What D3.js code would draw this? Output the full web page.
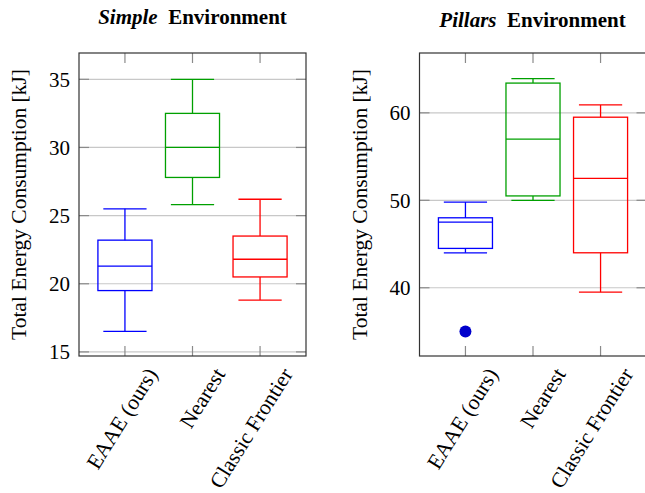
<!DOCTYPE html>
<html>
<head>
<meta charset="utf-8">
<script src="https://cdn.jsdelivr.net/npm/d3@7"></script>
<style>
  body { margin: 0; background: #fff; }
  svg { display: block; }
  text, tspan { font-family: "Liberation Serif", "Times New Roman", serif; fill: #000; }
</style>
</head>
<body>
<svg id="chart" width="645" height="493"></svg>
<script>
// categories and colours of the boxes
const categories = ["EAAE (ours)", "Nearest", "Classic Frontier"];
const boxColors = ["#0000ff", "#00a000", "#ff0000"];

// Simple environment (kJ)
const simpleLow = [16.5, 25.8, 18.8];
const simpleQ1 = [19.5, 27.8, 20.5];
const simpleMedian = [21.3, 30.0, 21.8];
const simpleQ3 = [23.2, 32.5, 23.5];
const simpleHigh = [25.5, 35.0, 26.2];
const simpleOutliers = [[], [], []];
const simpleTicks = [15, 20, 25, 30, 35];

// Pillars environment (kJ)
const pillarsLow = [44.0, 50.0, 39.5];
const pillarsQ1 = [44.5, 50.5, 44.0];
const pillarsMedian = [47.5, 57.0, 52.5];
const pillarsQ3 = [48.0, 63.4, 59.5];
const pillarsHigh = [49.8, 63.9, 60.9];
const pillarsOutliers = [[35.0], [], []];
const pillarsTicks = [40, 50, 60];

const yTitle = "Total Energy Consumption [kJ]";

const svg = d3.select("#chart");

function drawPanel(opt) {
    const x0 = opt.left, x1 = opt.right, y0 = 53, y1 = 356;
    const g = svg.append("g");

    // categories sit at 1,2,3 like pgfplots boxplots
    let xScale = d3.scaleLinear().domain([0.32, 3.68]).range([x0, x1]);
    let yScale = d3.scaleLinear().domain(opt.yDomain).range([y1, y0]);
    const pos = categories.map((c, i) => i + 1);

    // grid lines
    g.selectAll(".grid").data(opt.ticks).join("line")
        .attr("x1", x0).attr("x2", x1)
        .attr("y1", d => yScale(d)).attr("y2", d => yScale(d))
        .attr("stroke", "#c8c8c8").attr("stroke-width", 1.2);

    // inner tick marks, all four sides
    const tl = 10;
    g.selectAll(".tl").data(opt.ticks).join("line")
        .attr("x1", x0).attr("x2", x0 + tl)
        .attr("y1", d => yScale(d)).attr("y2", d => yScale(d))
        .attr("stroke", "#8a8a8a").attr("stroke-width", 1.2);
    g.selectAll(".tr").data(opt.ticks).join("line")
        .attr("x1", x1).attr("x2", x1 - tl)
        .attr("y1", d => yScale(d)).attr("y2", d => yScale(d))
        .attr("stroke", "#8a8a8a").attr("stroke-width", 1.2);
    g.selectAll(".tb").data(pos).join("line")
        .attr("x1", d => xScale(d)).attr("x2", d => xScale(d))
        .attr("y1", y1).attr("y2", y1 - tl)
        .attr("stroke", "#8a8a8a").attr("stroke-width", 1.2);
    g.selectAll(".tt").data(pos).join("line")
        .attr("x1", d => xScale(d)).attr("x2", d => xScale(d))
        .attr("y1", y0).attr("y2", y0 + tl)
        .attr("stroke", "#8a8a8a").attr("stroke-width", 1.2);

    // boxes
    const boxW = 0.8, capW = 0.64;
    pos.forEach((p, i) => {
        const col = boxColors[i];
        const b = g.append("g").attr("stroke", col).attr("stroke-width", 1.3).attr("fill", "none");
        const xc = xScale(p);
        const half = (xScale(p + boxW / 2) - xScale(p - boxW / 2)) / 2;
        const capHalf = (xScale(p + capW / 2) - xScale(p - capW / 2)) / 2;
        // whiskers
        b.append("line").attr("x1", xc).attr("x2", xc)
            .attr("y1", yScale(opt.low[i])).attr("y2", yScale(opt.q1[i]));
        b.append("line").attr("x1", xc).attr("x2", xc)
            .attr("y1", yScale(opt.q3[i])).attr("y2", yScale(opt.high[i]));
        b.append("line").attr("x1", xc - capHalf).attr("x2", xc + capHalf)
            .attr("y1", yScale(opt.low[i])).attr("y2", yScale(opt.low[i]));
        b.append("line").attr("x1", xc - capHalf).attr("x2", xc + capHalf)
            .attr("y1", yScale(opt.high[i])).attr("y2", yScale(opt.high[i]));
        // box + median
        b.append("rect").attr("x", xc - half).attr("width", half * 2)
            .attr("y", yScale(opt.q3[i])).attr("height", yScale(opt.q1[i]) - yScale(opt.q3[i]));
        b.append("line").attr("x1", xc - half).attr("x2", xc + half)
            .attr("y1", yScale(opt.median[i])).attr("y2", yScale(opt.median[i]));
        // outliers
        g.selectAll(null).data(opt.outliers[i]).join("circle")
            .attr("cx", xc).attr("cy", d => yScale(d)).attr("r", 6)
            .attr("fill", "#0000cc");
    });

    // frame
    g.append("rect").attr("x", x0).attr("y", y0)
        .attr("width", x1 - x0).attr("height", y1 - y0)
        .attr("fill", "none").attr("stroke", "#333").attr("stroke-width", 1.2);

    // y tick labels
    g.selectAll(".yl").data(opt.ticks).join("text")
        .attr("x", x0 - 9).attr("y", d => yScale(d)).attr("dy", "0.35em")
        .attr("text-anchor", "end").style("font-size", "21px")
        .text(d => d);

    // x tick labels, rotated
    g.selectAll(".xl").data(pos).join("text")
        .attr("transform", d => "translate(" + (xScale(d) + 27) + "," + (y1 + 14) + ") rotate(-58)")
        .attr("dy", "0.35em")
        .attr("text-anchor", "end").style("font-size", "21.5px")
        .text((d, i) => categories[i]);

    // y title
    g.append("text")
        .attr("transform", "translate(" + (x0 - 53) + "," + ((y0 + y1) / 2) + ") rotate(-90)")
        .attr("text-anchor", "middle").style("font-size", "21.5px")
        .text(yTitle);

    // title: italic name + bold "Environment"
    const t = g.append("text")
        .attr("x", opt.titleX)
        .attr("y", opt.titleY)
        .attr("text-anchor", "middle").style("font-size", "21px").style("font-weight", "bold");
    t.append("tspan").style("font-style", "italic").text(opt.name);
    t.append("tspan").text("\u00a0 Environment");
}

drawPanel({
    left: 79, right: 306, yDomain: [14.7, 36.93], ticks: simpleTicks,
    low: simpleLow, q1: simpleQ1, median: simpleMedian, q3: simpleQ3, high: simpleHigh,
    outliers: simpleOutliers, name: "Simple", titleX: 192.5, titleY: 24
});
drawPanel({
    left: 419.5, right: 646.5, yDomain: [32.2, 66.84], ticks: pillarsTicks,
    low: pillarsLow, q1: pillarsQ1, median: pillarsMedian, q3: pillarsQ3, high: pillarsHigh,
    outliers: pillarsOutliers, name: "Pillars", titleX: 532.5, titleY: 27
});
</script>
</body>
</html>
